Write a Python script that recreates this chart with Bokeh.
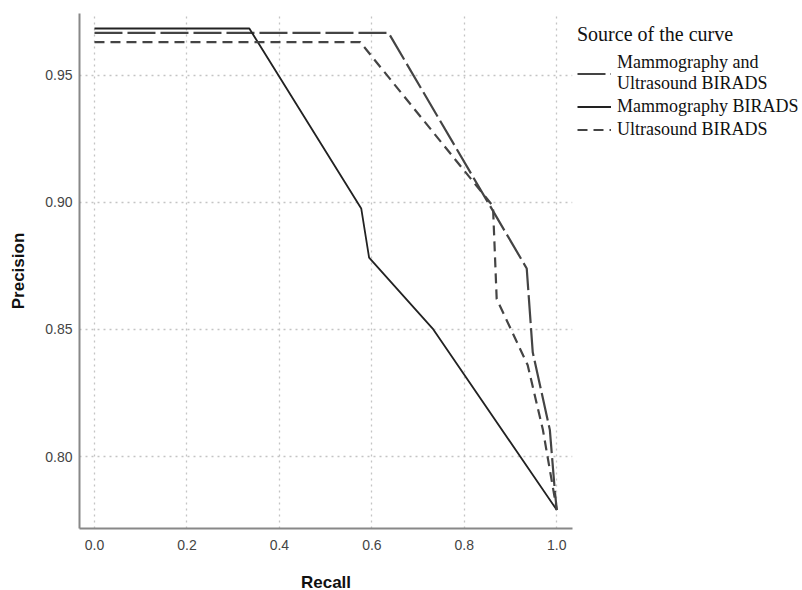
from bokeh.plotting import figure
from bokeh.models import Legend, LegendItem, FixedTicker, NumeralTickFormatter
from bokeh.embed import file_html
from bokeh.resources import INLINE

# Data
recall_mu = [0.0, 0.636, 0.935, 0.948, 0.985, 0.996, 1.0]
prec_mu = [0.9667, 0.9667, 0.874, 0.841, 0.8105, 0.786, 0.779]

recall_m = [0.0, 0.335, 0.577, 0.594, 0.733, 1.0]
prec_m = [0.9684, 0.9684, 0.8976, 0.8783, 0.850, 0.779]

recall_u = [0.0, 0.575, 0.862, 0.870, 0.937, 0.970, 1.0]
prec_u = [0.963, 0.963, 0.8985, 0.862, 0.836, 0.8105, 0.779]

x_ticks = [0.0, 0.2, 0.4, 0.6, 0.8, 1.0]
y_ticks = [0.80, 0.85, 0.90, 0.95]

series_labels = ["Mammography and\nUltrasound BIRADS", "Mammography BIRADS", "Ultrasound BIRADS"]
legend_title = "Source of the curve"

p = figure(frame_width=493, frame_height=515, x_range=(-0.0324, 1.034), y_range=(0.7717, 0.9743),
           output_backend="svg", toolbar_location=None,
           min_border_left=79, min_border_top=13, min_border_bottom=59, min_border_right=0)
p.outline_line_color = None
p.background_fill_color = "white"

# grids
for g in (p.xgrid, p.ygrid):
    g.grid_line_color = "#c4c4c4"
    g.grid_line_dash = "2 4"
    g.grid_line_width = 1.3
p.xaxis.ticker = FixedTicker(ticks=x_ticks)
p.yaxis.ticker = FixedTicker(ticks=y_ticks)
p.xaxis.formatter = NumeralTickFormatter(format="0.0")
p.yaxis.formatter = NumeralTickFormatter(format="0.00")

for ax in (p.xaxis, p.yaxis):
    ax.axis_line_color = "#888888"
    ax.axis_line_width = 2
    ax.major_tick_line_color = None
    ax.minor_tick_line_color = None
    ax.major_tick_in = 0
    ax.major_tick_out = 0
    ax.major_label_text_font = "Liberation Sans"
    ax.major_label_text_font_size = "14px"
    ax.major_label_text_color = "#444444"
    ax.axis_label_text_font = "Liberation Sans"
    ax.axis_label_text_font_style = "bold"
    ax.axis_label_text_font_size = "17px"
    ax.axis_label_text_color = "#111111"

p.xaxis.axis_label = "Recall"
p.yaxis.axis_label = "Precision"
p.xaxis.major_label_standoff = 11
p.yaxis.major_label_standoff = 7
p.xaxis.axis_label_standoff = 20
p.yaxis.axis_label_standoff = 14

r_mu = p.line(recall_mu, prec_mu, line_color="#444444", line_width=2.2, line_dash="28 5")
r_m = p.line(recall_m, prec_m, line_color="#222222", line_width=1.8)
r_u = p.line(recall_u, prec_u, line_color="#444444", line_width=2.2, line_dash="10 6")

legend = Legend(items=[LegendItem(label=series_labels[0], renderers=[r_mu]),
                       LegendItem(label=series_labels[1], renderers=[r_m]),
                       LegendItem(label=series_labels[2], renderers=[r_u])],
                location=(5, 388), title=legend_title)
legend.title_text_font = "Liberation Serif"
legend.title_text_font_size = "20px"
legend.title_text_font_style = "normal"
legend.title_text_color = "#111111"
legend.title_text_align = "center"
legend.title_standoff = 6
legend.label_text_font = "Liberation Serif"
legend.label_text_font_size = "18px"
legend.label_text_color = "#111111"
legend.label_height = 21
legend.glyph_height = 21
legend.glyph_width = 34
legend.label_standoff = 6
legend.spacing = 2
legend.padding = 0
legend.margin = 0
legend.border_line_color = None
legend.background_fill_alpha = 0
p.add_layout(legend, "right")

open("out.html", "w").write(file_html(p, INLINE))
